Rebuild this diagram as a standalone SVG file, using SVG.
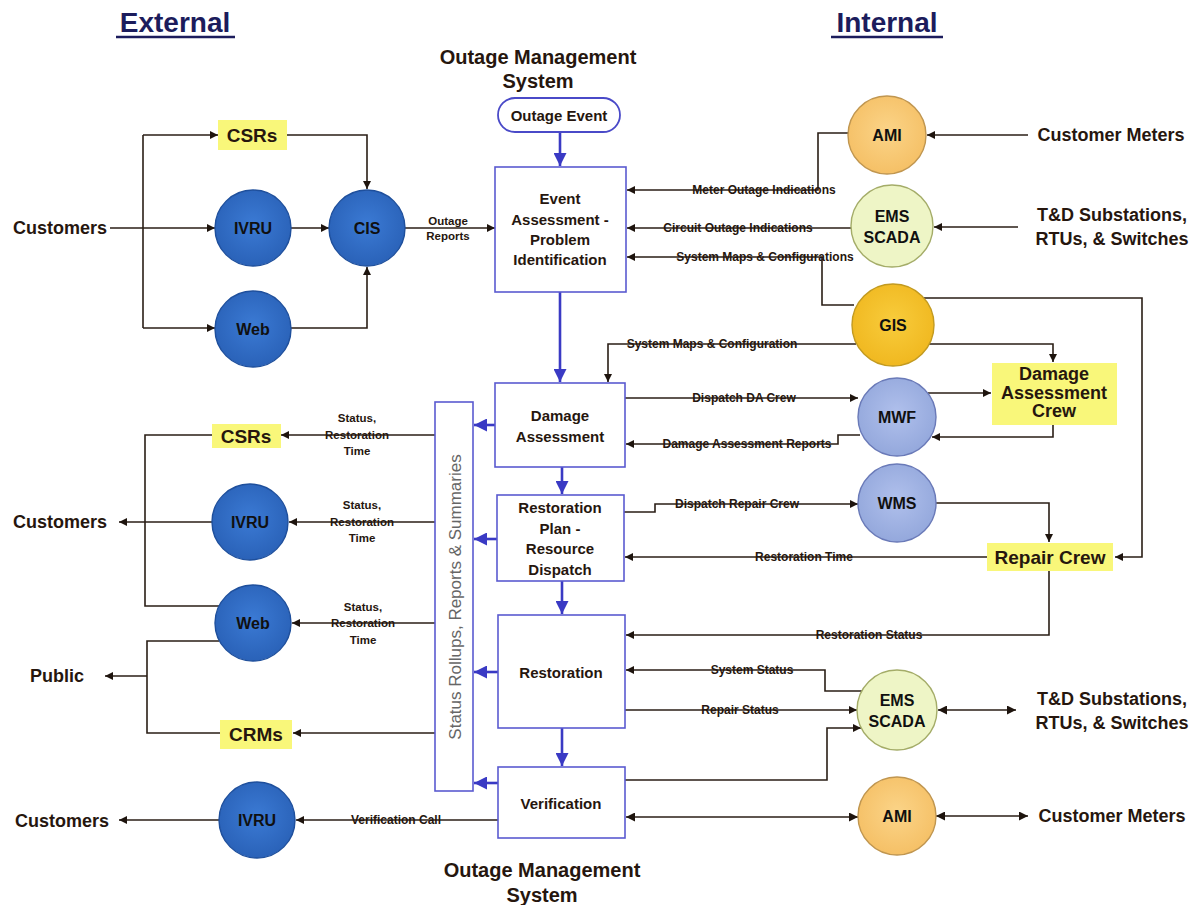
<svg xmlns="http://www.w3.org/2000/svg" width="1197" height="905" viewBox="0 0 1197 905">
  <style>
    .ln { fill: none; stroke: #2a1e16; stroke-width: 1.6; }
    .bl { fill: none; stroke: #3a3ac4; stroke-width: 2.6; }
    .box { fill: #ffffff; stroke: #5a5ad0; stroke-width: 1.6; }
    .ybox { fill: #f9f77a; stroke: none; }
    .cblue { fill: url(#gBlue); stroke: #1e4f9c; stroke-width: 1.4; }
    .clav { fill: url(#gLav); stroke: #6a7ab8; stroke-width: 1.4; }
    .corange { fill: url(#gOrange); stroke: #c09650; stroke-width: 1.4; }
    .cgold { fill: url(#gGold); stroke: #c29a20; stroke-width: 1.4; }
    .cgreen { fill: #eef5c6; stroke: #a4ac68; stroke-width: 1.4; }
    text { font-family: "Liberation Sans", Arial, sans-serif; fill: #26160e; text-anchor: middle; dominant-baseline: central; }
    .title { font-size: 28px; font-weight: bold; fill: #1c1c5c; }
    .oms { font-size: 20px; font-weight: bold; }
    .big { font-size: 18px; font-weight: bold; }
    .ytxt { font-size: 19px; font-weight: bold; }
    .node { font-size: 16px; font-weight: bold; fill: #101010; }
    .step { font-size: 15px; font-weight: bold; }
    .lab { font-size: 12px; font-weight: bold; }
    .lab2 { font-size: 11.5px; font-weight: bold; }
    .bar { font-size: 17px; fill: #666666; }
  </style>
  <defs>
    <radialGradient id="gBlue" cx="50%" cy="45%" r="55%">
      <stop offset="0" stop-color="#3b7ad4"/>
      <stop offset="1" stop-color="#2a62b8"/>
    </radialGradient>
    <radialGradient id="gLav" cx="50%" cy="45%" r="55%">
      <stop offset="0" stop-color="#b0c0ec"/>
      <stop offset="1" stop-color="#94a8dc"/>
    </radialGradient>
    <radialGradient id="gOrange" cx="50%" cy="45%" r="55%">
      <stop offset="0" stop-color="#fbd488"/>
      <stop offset="1" stop-color="#f5c066"/>
    </radialGradient>
    <radialGradient id="gGold" cx="50%" cy="45%" r="55%">
      <stop offset="0" stop-color="#f8cc3c"/>
      <stop offset="1" stop-color="#f0b820"/>
    </radialGradient>
    <marker id="a" viewBox="0 0 10 10" refX="10" refY="5" markerWidth="10" markerHeight="8" orient="auto" markerUnits="userSpaceOnUse">
      <path d="M0,0 L10,5 L0,10 z" fill="#1e140e"/>
    </marker>
    <marker id="a2" viewBox="0 0 10 10" refX="10" refY="5" markerWidth="12" markerHeight="9" orient="auto-start-reverse" markerUnits="userSpaceOnUse">
      <path d="M0,0 L10,5 L0,10 z" fill="#1e140e"/>
    </marker>
    <marker id="b" viewBox="0 0 10 10" refX="10" refY="5" markerWidth="13" markerHeight="13" orient="auto" markerUnits="userSpaceOnUse">
      <path d="M0,0 L10,5 L0,10 z" fill="#3a3ac4"/>
    </marker>
  </defs>

  <rect width="1197" height="905" fill="#ffffff"/>

  <!-- Section titles -->
  <g id="titles">
    <text class="title" x="175" y="22">External</text>
    <line x1="116" y1="37" x2="235" y2="37" stroke="#1c1c5c" stroke-width="2.5"/>
    <text class="title" x="887" y="22">Internal</text>
    <line x1="831" y1="37" x2="943" y2="37" stroke="#1c1c5c" stroke-width="2.5"/>
    <text class="oms" x="538" y="57">Outage Management</text>
    <text class="oms" x="538" y="81">System</text>
    <text class="oms" x="542" y="870">Outage Management</text>
    <text class="oms" x="542" y="895">System</text>
  </g>

  <!-- Connectors -->
  <g id="connectors">
    <!-- OMS process flow -->
    <path class="bl" d="M560,132 V166" marker-end="url(#b)"/>
    <path class="bl" d="M560,292 V382" marker-end="url(#b)"/>
    <path class="bl" d="M562,467 V494" marker-end="url(#b)"/>
    <path class="bl" d="M562,581 V614" marker-end="url(#b)"/>
    <path class="bl" d="M562,728 V766" marker-end="url(#b)"/>
    <path class="bl" d="M497,425 H474" marker-end="url(#b)"/>
    <path class="bl" d="M497,539 H474" marker-end="url(#b)"/>
    <path class="bl" d="M498,672 H474" marker-end="url(#b)"/>
    <path class="bl" d="M498,783 H474" marker-end="url(#b)"/>

    <!-- external inbound -->
    <path class="ln" d="M110,228 H215" marker-end="url(#a)"/>
    <path class="ln" d="M143,135 V328"/>
    <path class="ln" d="M143,135 H218" marker-end="url(#a)"/>
    <path class="ln" d="M143,328 H215" marker-end="url(#a)"/>
    <path class="ln" d="M287,135 H367 V189" marker-end="url(#a)"/>
    <path class="ln" d="M291,228 H329" marker-end="url(#a)"/>
    <path class="ln" d="M291,328 H367 V267" marker-end="url(#a)"/>
    <path class="ln" d="M405,228 H495" marker-end="url(#a)"/>

    <!-- internal inbound to event assessment -->
    <path class="ln" d="M849,133 H818 V190 H627" marker-end="url(#a)"/>
    <path class="ln" d="M1028,135 H927" marker-end="url(#a)"/>
    <path class="ln" d="M851,228 H627" marker-end="url(#a)"/>
    <path class="ln" d="M1018,227 H934" marker-end="url(#a)"/>
    <path class="ln" d="M854,305 H822 V257 H627" marker-end="url(#a)"/>

    <!-- GIS outputs -->
    <path class="ln" d="M924,298 H1142 V557 H1115" marker-end="url(#a)"/>
    <path class="ln" d="M929,344 H1053 V362" marker-end="url(#a)"/>
    <path class="ln" d="M856,344 H608 V382" marker-end="url(#a)"/>

    <!-- damage assessment loop -->
    <path class="ln" d="M625,398 H858" marker-end="url(#a)"/>
    <path class="ln" d="M928,393 H991" marker-end="url(#a)"/>
    <path class="ln" d="M1053,425 V437 H932" marker-end="url(#a)"/>
    <path class="ln" d="M860,435 H838 V444 H626" marker-end="url(#a)"/>

    <!-- repair dispatch -->
    <path class="ln" d="M624,512 H655 V504 H858" marker-end="url(#a)"/>
    <path class="ln" d="M936,503 H1049 V542" marker-end="url(#a)"/>
    <path class="ln" d="M987,557 H625" marker-end="url(#a)"/>
    <path class="ln" d="M1049,570 V635 H626" marker-end="url(#a)"/>

    <!-- restoration / verification with field systems -->
    <path class="ln" d="M862,691 H825 V670 H626" marker-end="url(#a)"/>
    <path class="ln" d="M625,710 H857" marker-end="url(#a)"/>
    <path class="ln" d="M625,780 H827 V728 H861" marker-end="url(#a)"/>
    <path class="ln" d="M938,710 H1016" marker-start="url(#a2)" marker-end="url(#a2)"/>
    <path class="ln" d="M626,817 H858" marker-start="url(#a2)" marker-end="url(#a2)"/>
    <path class="ln" d="M936,816 H1028" marker-start="url(#a2)" marker-end="url(#a2)"/>

    <!-- external outbound -->
    <path class="ln" d="M435,435 H281" marker-end="url(#a)"/>
    <path class="ln" d="M435,522 H289" marker-end="url(#a)"/>
    <path class="ln" d="M435,623 H292" marker-end="url(#a)"/>
    <path class="ln" d="M212,435 H145 V606 H219"/>
    <path class="ln" d="M213,522 H119" marker-end="url(#a)"/>
    <path class="ln" d="M219,641 H147 V733 H220"/>
    <path class="ln" d="M147,676 H105" marker-end="url(#a)"/>
    <path class="ln" d="M435,733 H293" marker-end="url(#a)"/>
    <path class="ln" d="M498,820 H296" marker-end="url(#a)"/>
    <path class="ln" d="M219,820 H119" marker-end="url(#a)"/>
  </g>

  <!-- Connector labels -->
  <g id="connector-labels">
    <text class="lab2" x="448" y="221">Outage</text>
    <text class="lab2" x="448" y="236">Reports</text>
    <text class="lab" x="764" y="190">Meter Outage Indications</text>
    <text class="lab" x="738" y="228">Circuit Outage Indications</text>
    <text class="lab" x="765" y="257">System Maps &amp; Configurations</text>
    <text class="lab" x="712" y="344">System Maps &amp; Configuration</text>
    <text class="lab" x="744" y="398">Dispatch DA Crew</text>
    <text class="lab" x="747" y="444">Damage Assessment Reports</text>
    <text class="lab" x="737" y="504">Dispatch Repair Crew</text>
    <text class="lab" x="804" y="557">Restoration Time</text>
    <text class="lab" x="869" y="635">Restoration Status</text>
    <text class="lab" x="752" y="670">System Status</text>
    <text class="lab" x="740" y="710">Repair Status</text>
    <text class="lab" x="396" y="820">Verification Call</text>
    <text class="lab2" x="357" y="418">Status,</text>
    <text class="lab2" x="357" y="435">Restoration</text>
    <text class="lab2" x="357" y="451">Time</text>
    <text class="lab2" x="362" y="505">Status,</text>
    <text class="lab2" x="362" y="522">Restoration</text>
    <text class="lab2" x="362" y="538">Time</text>
    <text class="lab2" x="363" y="607">Status,</text>
    <text class="lab2" x="363" y="623">Restoration</text>
    <text class="lab2" x="363" y="640">Time</text>
  </g>

  <!-- External endpoints -->
  <g id="customers-in"><text class="big" x="60" y="228">Customers</text></g>
  <g id="customers-status"><text class="big" x="60" y="522">Customers</text></g>
  <g id="public"><text class="big" x="57" y="676">Public</text></g>
  <g id="customers-verify"><text class="big" x="62" y="821">Customers</text></g>

  <!-- External channels, inbound -->
  <g id="csrs-in">
    <rect class="ybox" x="218" y="120" width="69" height="30"/>
    <text class="ytxt" x="252" y="135">CSRs</text>
  </g>
  <g id="ivru-in">
    <circle class="cblue" cx="253" cy="228" r="38"/>
    <text class="node" x="253" y="228">IVRU</text>
  </g>
  <g id="web-in">
    <circle class="cblue" cx="253" cy="329" r="38"/>
    <text class="node" x="253" y="329">Web</text>
  </g>
  <g id="cis">
    <circle class="cblue" cx="367" cy="228" r="38"/>
    <text class="node" x="367" y="228">CIS</text>
  </g>

  <!-- External channels, outbound -->
  <g id="csrs-out">
    <rect class="ybox" x="212" y="424" width="69" height="24"/>
    <text class="ytxt" x="246" y="436">CSRs</text>
  </g>
  <g id="ivru-out">
    <circle class="cblue" cx="250" cy="522" r="38"/>
    <text class="node" x="250" y="522">IVRU</text>
  </g>
  <g id="web-out">
    <circle class="cblue" cx="253" cy="623" r="38"/>
    <text class="node" x="253" y="623">Web</text>
  </g>
  <g id="crms">
    <rect class="ybox" x="220" y="720" width="72" height="29"/>
    <text class="ytxt" x="256" y="734">CRMs</text>
  </g>
  <g id="ivru-verify">
    <circle class="cblue" cx="257" cy="820" r="38"/>
    <text class="node" x="257" y="820">IVRU</text>
  </g>

  <!-- Outage management system steps -->
  <g id="outage-event">
    <rect x="498" y="98" width="122" height="34" rx="17" ry="17" fill="#ffffff" stroke="#4a4ac8" stroke-width="1.8"/>
    <text class="step" x="559" y="115">Outage Event</text>
  </g>
  <g id="event-assessment">
    <rect class="box" x="495" y="167" width="131" height="125"/>
    <text class="step" x="560" y="198">Event</text>
    <text class="step" x="560" y="219">Assessment -</text>
    <text class="step" x="560" y="239">Problem</text>
    <text class="step" x="560" y="259">Identification</text>
  </g>
  <g id="damage-assessment">
    <rect class="box" x="495" y="383" width="130" height="84"/>
    <text class="step" x="560" y="415">Damage</text>
    <text class="step" x="560" y="436">Assessment</text>
  </g>
  <g id="restoration-plan">
    <rect class="box" x="497" y="495" width="127" height="86"/>
    <text class="step" x="560" y="507">Restoration</text>
    <text class="step" x="560" y="528">Plan -</text>
    <text class="step" x="560" y="548">Resource</text>
    <text class="step" x="560" y="569">Dispatch</text>
  </g>
  <g id="restoration">
    <rect class="box" x="498" y="615" width="127" height="113"/>
    <text class="step" x="561" y="672">Restoration</text>
  </g>
  <g id="verification">
    <rect class="box" x="498" y="767" width="127" height="71"/>
    <text class="step" x="561" y="803">Verification</text>
  </g>
  <g id="status-rollups">
    <rect class="box" x="435" y="402" width="38" height="389"/>
    <text class="bar" x="455" y="597" transform="rotate(-90 455 597)">Status Rollups, Reports &amp; Summaries</text>
  </g>

  <!-- Internal systems -->
  <g id="ami-top">
    <circle class="corange" cx="887" cy="135" r="39"/>
    <text class="node" x="887" y="135">AMI</text>
  </g>
  <g id="ems-top">
    <circle class="cgreen" cx="892" cy="226" r="41"/>
    <text class="node" x="892" y="216">EMS</text>
    <text class="node" x="892" y="237">SCADA</text>
  </g>
  <g id="gis">
    <circle class="cgold" cx="893" cy="325" r="41"/>
    <text class="node" x="893" y="325">GIS</text>
  </g>
  <g id="mwf">
    <circle class="clav" cx="897" cy="417" r="39"/>
    <text class="node" x="897" y="417">MWF</text>
  </g>
  <g id="wms">
    <circle class="clav" cx="897" cy="503" r="39"/>
    <text class="node" x="897" y="503">WMS</text>
  </g>
  <g id="ems-bottom">
    <circle class="cgreen" cx="897" cy="710" r="40"/>
    <text class="node" x="897" y="700">EMS</text>
    <text class="node" x="897" y="721">SCADA</text>
  </g>
  <g id="ami-bottom">
    <circle class="corange" cx="897" cy="816" r="39"/>
    <text class="node" x="897" y="816">AMI</text>
  </g>
  <g id="da-crew">
    <rect class="ybox" x="992" y="363" width="125" height="62"/>
    <text class="big" x="1054" y="374">Damage</text>
    <text class="big" x="1054" y="393">Assessment</text>
    <text class="big" x="1054" y="411">Crew</text>
  </g>
  <g id="repair-crew">
    <rect class="ybox" x="987" y="543" width="126" height="28"/>
    <text class="ytxt" x="1050" y="557">Repair Crew</text>
  </g>

  <!-- Internal endpoints -->
  <g id="meters-top"><text class="big" x="1111" y="135">Customer Meters</text></g>
  <g id="td-top">
    <text class="big" x="1112" y="215">T&amp;D Substations,</text>
    <text class="big" x="1112" y="239">RTUs, &amp; Switches</text>
  </g>
  <g id="td-bottom">
    <text class="big" x="1112" y="699">T&amp;D Substations,</text>
    <text class="big" x="1112" y="723">RTUs, &amp; Switches</text>
  </g>
  <g id="meters-bottom"><text class="big" x="1112" y="816">Customer Meters</text></g>
</svg>
